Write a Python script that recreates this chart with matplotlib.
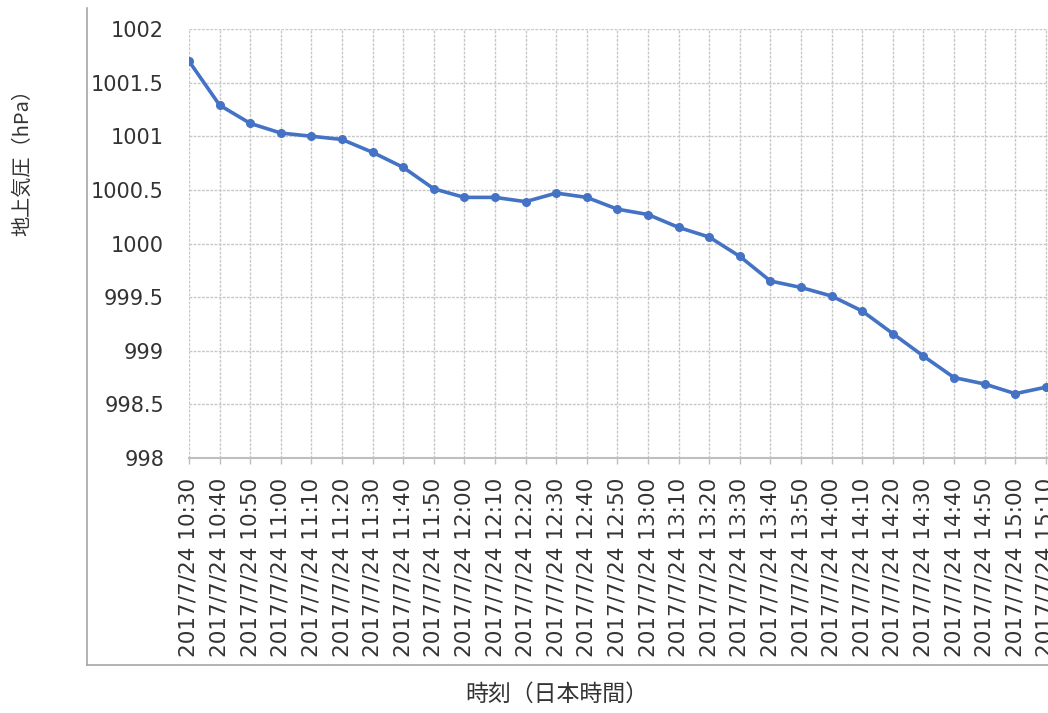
import numpy as np
import matplotlib
matplotlib.use("Agg")
import matplotlib.pyplot as plt
from matplotlib.lines import Line2D

plt.rcParams['font.family'] = ['Noto Sans CJK JP', 'DejaVu Sans']

# 10-minute readings, 2017/7/24 10:30 - 15:10 (JST)
times = ["10:30", "10:40", "10:50", "11:00", "11:10", "11:20", "11:30", "11:40",
         "11:50", "12:00", "12:10", "12:20", "12:30", "12:40", "12:50", "13:00",
         "13:10", "13:20", "13:30", "13:40", "13:50", "14:00", "14:10", "14:20",
         "14:30", "14:40", "14:50", "15:00", "15:10"]
pressure = [1001.70, 1001.29, 1001.12, 1001.03, 1001.00, 1000.97, 1000.85, 1000.71,
            1000.51, 1000.43, 1000.43, 1000.39, 1000.47, 1000.43, 1000.32, 1000.27,
            1000.15, 1000.06, 999.88, 999.65, 999.59, 999.51, 999.37, 999.16,
            998.95, 998.75, 998.69, 998.60, 998.66]
labels = ["2017/7/24 " + t for t in times]
yticks = [998, 998.5, 999, 999.5, 1000, 1000.5, 1001, 1001.5, 1002]
ytick_labels = ["998", "998.5", "999", "999.5", "1000", "1000.5", "1001", "1001.5", "1002"]

W, H = 1048, 713
fig = plt.figure(figsize=(W / 100, H / 100), dpi=100)
ax = fig.add_axes([189 / W, (H - 458) / H, 866 / W, 429 / H])

x = np.arange(len(pressure))
ax.plot(x, pressure, color="#4472C4", lw=2.6, marker="o", ms=5.5, zorder=3)

ax.set_xlim(0, 28.3)
ax.set_ylim(998, 1002)
ax.set_yticks(yticks)
ax.set_yticklabels(ytick_labels, fontsize=15, color="#333333", family="DejaVu Sans")
ax.set_xticks(x)
ax.set_xticklabels(labels, rotation=90, fontsize=15.5, color="#333333", family="DejaVu Sans")

ax.grid(True, color="#c8c8c8", lw=1.0, linestyle=(0, (2, 1)))
ax.set_axisbelow(True)
for s in ["top", "right", "left"]:
    ax.spines[s].set_visible(False)
ax.spines["bottom"].set_color("#bfbfbf")
ax.spines["bottom"].set_linewidth(1.5)
ax.tick_params(axis="y", length=0, pad=18)
ax.tick_params(axis="x", length=4, width=1, color="#bfbfbf", pad=10)

fig.text(23 / W, 1 - 158 / H, "地上気圧（hPa）", rotation=90, ha="center", va="center",
         fontsize=14.5, color="#333333")
fig.text(557 / W, 1 - 694 / H, "時刻（日本時間）", ha="center", va="center",
         fontsize=16.5, color="#333333")

# outer chart frame
fig.add_artist(Line2D([87 / W, 87 / W], [1 - 8 / H, 1 - 665 / H], color="#a6a6a6", lw=1.2))
fig.add_artist(Line2D([87 / W, 1.0], [1 - 665 / H, 1 - 665 / H], color="#a6a6a6", lw=1.2))

fig.savefig("out.png", dpi=100)
